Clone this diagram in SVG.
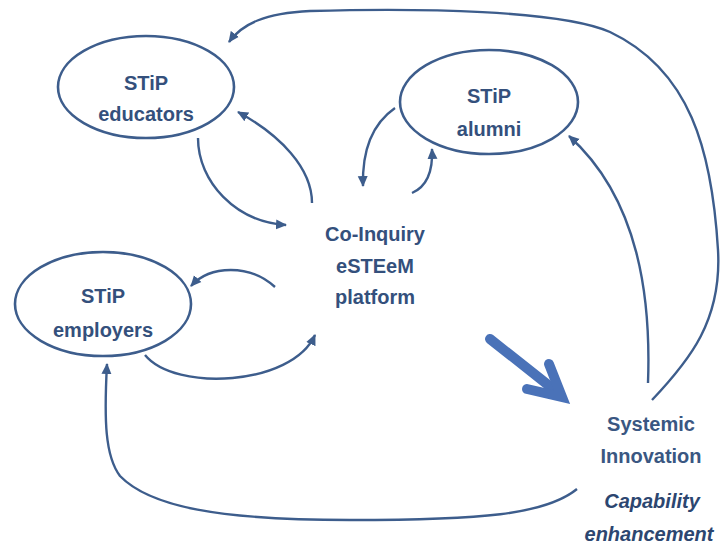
<svg xmlns="http://www.w3.org/2000/svg" width="720" height="544" viewBox="0 0 720 544">
<style>
.node ellipse{fill:#fff;stroke:#3d5d8c;stroke-width:2.6}
text{font-family:"Liberation Sans",Arial,sans-serif;font-weight:bold;fill:#34507c;text-anchor:middle}
.n{font-size:20px}
.c{font-size:20px}
.s{font-size:20px;fill:#3a5782}
.i{font-size:20px;font-style:italic;fill:#2c4670}
.conn path{fill:none;stroke:#3d5d8c;stroke-width:2.4;marker-end:url(#ah)}
</style>
<defs>
<marker id="ah" markerUnits="userSpaceOnUse" markerWidth="12" markerHeight="12" viewBox="0 0 12 12" refX="10" refY="6" orient="auto">
<path d="M0,1 L11,6 L0,11 z" fill="#3d5d8c"/>
</marker>
</defs>
<rect width="720" height="544" fill="#fff"/>
<g id="connectors" class="conn">
<path d="M652,400 C690,360 722,320 718,250 C712,150 690,70 610,32 C560,10 420,8 310,11 C265,13 242,24 229,42"/>
<path d="M648,383 C651,300 640,200 569,136"/>
<path d="M312,203 C312,168 280,135 238,112"/>
<path d="M198,138 C198,182 236,222 286,225"/>
<path d="M395,108 C372,124 362,150 363,186"/>
<path d="M412,193 C428,186 433,170 432,149"/>
<path d="M275,287 C250,264 210,265 191,286"/>
<path d="M145,355 C175,392 292,386 315,335"/>
<path d="M577,489 C545,515 480,520 350,520 C220,520 150,507 120,476 C105,456 104,420 107,364"/>
</g>
<g id="big-arrow" fill="none" stroke="#4a72b8" stroke-width="10">
<path d="M490,339 L557,392" stroke-linecap="round"/>
<path d="M527,389 L562,397 L549,364" stroke-linecap="round" stroke-linejoin="miter"/>
</g>
<g id="educators" class="node">
<ellipse cx="146" cy="87" rx="88" ry="51"/>
<text class="n" x="146" y="90">STiP</text>
<text class="n" x="146" y="121">educators</text>
</g>
<g id="alumni" class="node">
<ellipse cx="489" cy="102" rx="89" ry="52"/>
<text class="n" x="489" y="103">STiP</text>
<text class="n" x="489" y="136">alumni</text>
</g>
<g id="employers" class="node">
<ellipse cx="103" cy="304" rx="88" ry="52"/>
<text class="n" x="103" y="303">STiP</text>
<text class="n" x="103" y="337">employers</text>
</g>
<g id="platform">
<text class="c" x="375" y="241">Co-Inquiry</text>
<text class="c" x="375" y="273">eSTEeM</text>
<text class="c" x="375" y="304">platform</text>
</g>
<g id="systemic">
<text class="s" x="651" y="431">Systemic</text>
<text class="s" x="651" y="463">Innovation</text>
<text class="i" x="652" y="508">Capability</text>
<text class="i" x="649" y="541">enhancement</text>
</g>
</svg>
